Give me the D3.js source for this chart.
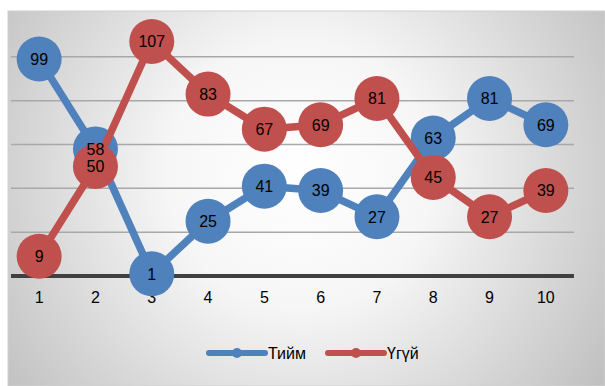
<!DOCTYPE html>
<html>
<head>
<meta charset="utf-8">
<script src="https://cdn.jsdelivr.net/npm/d3@7"></script>
<style>
  html, body { margin: 0; padding: 0; background: #ffffff; }
  svg { display: block; }
  text { font-family: "Liberation Sans", "DejaVu Sans", sans-serif; }
</style>
</head>
<body>
<svg id="chart" width="605" height="386"></svg>
<script>
// Chart data
const categories = ["1", "2", "3", "4", "5", "6", "7", "8", "9", "10"];
const seriesNames = ["Тийм", "Үгүй"];
const seriesColors = ["#4f81bd", "#c0504d"];
const yesValues = [99, 58, 1, 25, 41, 39, 27, 63, 81, 69];
const noValues = [9, 50, 107, 83, 67, 69, 81, 45, 27, 39];
const yTicks = [20, 40, 60, 80, 100];

const series = [
  { name: seriesNames[0], color: seriesColors[0], values: yesValues },
  { name: seriesNames[1], color: seriesColors[1], values: noValues }
];

const svg = d3.select("#chart");
const W = 605, H = 386;

// Background panel with soft radial shading
const defs = svg.append("defs");
const grad = defs.append("radialGradient")
  .attr("id", "bg")
  .attr("gradientUnits", "userSpaceOnUse")
  .attr("cx", 300).attr("cy", 175).attr("r", 380);
grad.append("stop").attr("offset", "0%").attr("stop-color", "#ffffff");
grad.append("stop").attr("offset", "35%").attr("stop-color", "#f6f6f6");
grad.append("stop").attr("offset", "100%").attr("stop-color", "#bdbdbd");

svg.append("rect")
  .attr("x", 8).attr("y", 11)
  .attr("width", W - 8).attr("height", H - 11)
  .attr("fill", "url(#bg)")
  .attr("stroke", "#d0d0d0")
  .attr("stroke-width", 1);

// Scales
const x = d3.scaleBand().domain(categories).range([11, 574]).padding(0);
const y = d3.scaleLinear().domain([0, 120]).range([276, 13]);
const cx = d => x(d) + x.bandwidth() / 2;

// Gridlines
svg.append("g")
  .selectAll("line")
  .data(yTicks)
  .join("line")
  .attr("x1", 11).attr("x2", 574)
  .attr("y1", d => y(d)).attr("y2", d => y(d))
  .attr("stroke", "#a8a8a8")
  .attr("stroke-width", 1.5);

// Category axis
const xAxis = svg.append("g")
  .attr("transform", `translate(0,${y(0)})`)
  .call(d3.axisBottom(x).tickSize(0).tickPadding(16));
xAxis.select(".domain")
  .attr("stroke", "#404040")
  .attr("stroke-width", 4)
  .attr("d", `M11,0H574`);
xAxis.selectAll("text")
  .attr("font-size", 16)
  .attr("fill", "#000000");

// Lines and markers
const line = d3.line()
  .x((d, i) => cx(categories[i]))
  .y(d => y(d));

series.forEach(s => {
  const g = svg.append("g");
  g.append("path")
    .datum(s.values)
    .attr("d", line)
    .attr("fill", "none")
    .attr("stroke", s.color)
    .attr("stroke-width", 7.5)
    .attr("stroke-linejoin", "round");
  g.selectAll("circle")
    .data(s.values)
    .join("circle")
    .attr("cx", (d, i) => cx(categories[i]))
    .attr("cy", d => y(d))
    .attr("r", 22.5)
    .attr("fill", s.color);
});

// Value labels drawn above all markers
series.forEach(s => {
  svg.append("g")
    .selectAll("text")
    .data(s.values)
    .join("text")
    .attr("x", (d, i) => cx(categories[i]))
    .attr("y", d => y(d))
    .attr("dy", "0.36em")
    .attr("text-anchor", "middle")
    .attr("font-size", 16)
    .attr("fill", "#000000")
    .text(d => d);
});

// Legend
const legend = svg.append("g");
const legendItems = [
  { s: series[0], x0: 209 },
  { s: series[1], x0: 328 }
];
legendItems.forEach(({ s, x0 }) => {
  const ly = 353;
  legend.append("line")
    .attr("x1", x0).attr("x2", x0 + 56)
    .attr("y1", ly).attr("y2", ly)
    .attr("stroke", s.color)
    .attr("stroke-width", 6)
    .attr("stroke-linecap", "round");
  legend.append("circle")
    .attr("cx", x0 + 28).attr("cy", ly).attr("r", 5)
    .attr("fill", s.color);
  legend.append("text")
    .attr("x", x0 + 59).attr("y", ly)
    .attr("dy", "0.36em")
    .attr("font-size", 16)
    .attr("fill", "#000000")
    .text(s.name);
});
</script>
</body>
</html>
